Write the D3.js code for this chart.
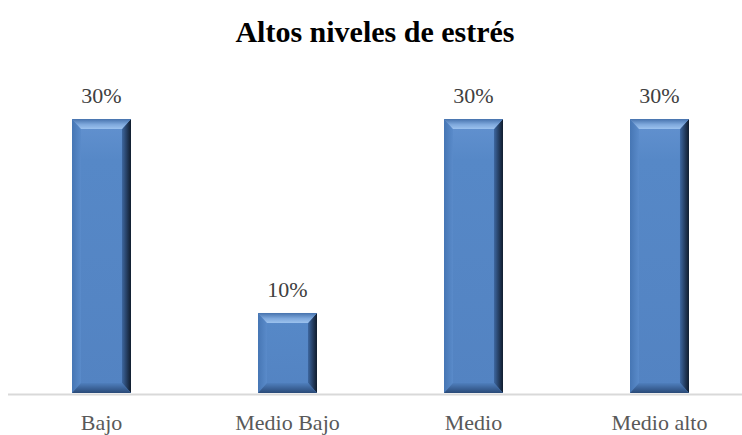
<!DOCTYPE html>
<html>
<head>
<meta charset="utf-8">
<script src="https://cdn.jsdelivr.net/npm/d3@7"></script>
<style>
  html, body { margin: 0; padding: 0; background: #ffffff; }
  svg { display: block; }
</style>
</head>
<body>
<svg id="chart" width="742" height="435"></svg>
<script>
// Chart data
const title = "Altos niveles de estrés";
const categories = ["Bajo", "Medio Bajo", "Medio", "Medio alto"];
const values = [30, 10, 30, 30];          // percent
const valueLabels = ["30%", "10%", "30%", "30%"];

const W = 742, H = 435;
const svg = d3.select("#chart");
const defs = svg.append("defs");

// Scales
const x = d3.scaleBand().domain(categories).range([8.5, 752.5]).paddingInner(0.683).paddingOuter(0.3415);
const y = d3.scaleLinear().domain([1.75, 30]).range([393, 119]);

// Bevel gradients
function grad(id, x1, y1, x2, y2, stops) {
  const g = defs.append("linearGradient").attr("id", id)
    .attr("x1", x1).attr("y1", y1).attr("x2", x2).attr("y2", y2);
  stops.forEach(([o, c]) => g.append("stop").attr("offset", o).attr("stop-color", c));
}
grad("gTop", 0, 0, 0, 1, [[0, "#4672ad"], [0.55, "#7ea8dc"], [1, "#9cc2ee"]]);
grad("gRight", 0, 0, 1, 0, [[0, "#3d67a0"], [0.6, "#22395a"], [1, "#101c2c"]]);
grad("gLeft", 0, 0, 1, 0, [[0, "#4676b4"], [1, "#5a8bca"]]);
grad("gBottom", 0, 0, 0, 1, [[0, "#4f7fbd"], [1, "#2a4a78"]]);
grad("gFace", 0, 0, 0, 1, [[0, "#6392d0"], [0.15, "#5688c7"], [1, "#5383c2"]]);

// Bars
const bev = 9;
const bars = svg.append("g").selectAll("g").data(values).join("g");
bars.each(function (v, i) {
  const g = d3.select(this);
  const x0 = x(categories[i]), x1 = x0 + x.bandwidth();
  const y0 = y(v), y1 = y(y.domain()[0]);
  const bx = Math.min(bev, (x1 - x0) / 2), by = Math.min(bev + 1, (y1 - y0) / 2);
  g.append("rect").attr("x", x0).attr("y", y0).attr("width", x1 - x0).attr("height", y1 - y0)
    .attr("fill", "url(#gFace)");
  const poly = (pts, fill) => g.append("polygon").attr("points", pts.map(p => p.join(",")).join(" ")).attr("fill", fill);
  poly([[x0, y0], [x0 + bx, y0 + by], [x0 + bx, y1 - by], [x0, y1]], "url(#gLeft)");
  poly([[x1, y0], [x1, y1], [x1 - bx, y1 - by], [x1 - bx, y0 + by]], "url(#gRight)");
  poly([[x0, y1], [x0 + bx, y1 - by], [x1 - bx, y1 - by], [x1, y1]], "url(#gBottom)");
  poly([[x0, y0], [x1, y0], [x1 - bx, y0 + by], [x0 + bx, y0 + by]], "url(#gTop)");
});

// Category axis line
svg.append("line").attr("x1", 8).attr("x2", W).attr("y1", 394.5).attr("y2", 394.5)
  .attr("stroke", "#d9d9d9").attr("stroke-width", 2);

// Category labels
svg.append("g").selectAll("text").data(categories).join("text")
  .attr("x", d => x(d) + x.bandwidth() / 2)
  .attr("y", 430)
  .attr("text-anchor", "middle")
  .attr("font-family", "'Liberation Serif', 'Times New Roman', serif")
  .attr("font-size", 22)
  .attr("fill", "#595959")
  .text(d => d);

// Value labels
svg.append("g").selectAll("text").data(values).join("text")
  .attr("x", (d, i) => x(categories[i]) + x.bandwidth() / 2)
  .attr("y", d => y(d) - 16)
  .attr("text-anchor", "middle")
  .attr("font-family", "'Liberation Serif', 'Times New Roman', serif")
  .attr("font-size", 22)
  .attr("fill", "#404040")
  .text((d, i) => valueLabels[i]);

// Title
svg.append("text")
  .attr("x", 375).attr("y", 42)
  .attr("text-anchor", "middle")
  .attr("font-family", "'Liberation Serif', 'Times New Roman', serif")
  .attr("font-size", 30)
  .attr("font-weight", "bold")
  .attr("fill", "#000000")
  .text(title);
</script>
</body>
</html>
